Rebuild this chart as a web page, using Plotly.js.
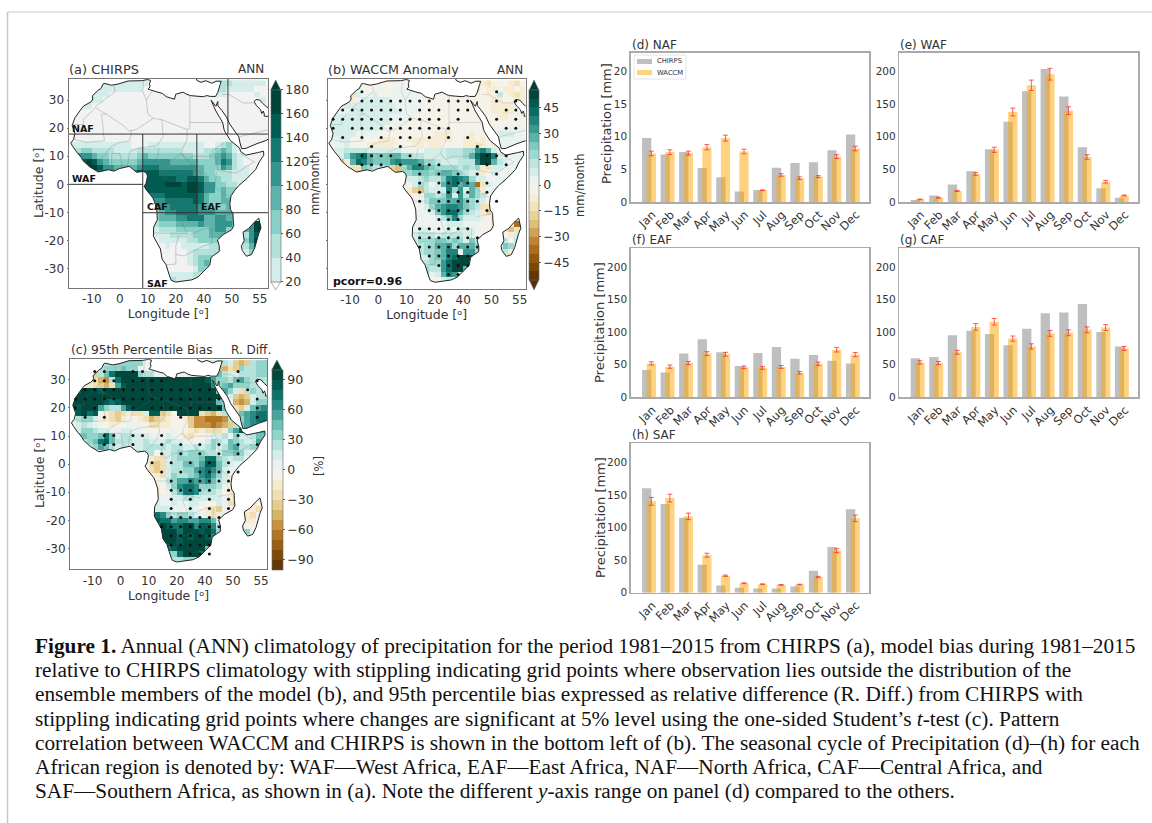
<!DOCTYPE html>
<html><head><meta charset="utf-8">
<script src="https://cdn.plot.ly/plotly-3.0.1.min.js"></script>
<style>html,body{margin:0;padding:0;background:#fff}#g{width:1152px;height:823px}</style>
</head><body><div id="g"></div>
<script>
// ---------- bar chart data ----------
const months=['Jan','Feb','Mar','Apr','May','Jun','Jul','Aug','Sep','Oct','Nov','Dec'];
const monthPos=[0,1,2,3,4,5,6,7,8,9,10,11];
const nafChirps=[9.8,7.3,7.65,5.2,3.8,1.6,1.85,5.25,6.0,6.1,7.95,10.35];
const nafWaccm=[7.45,7.65,7.5,8.4,9.8,7.75,1.8,4.15,3.65,3.9,6.95,8.2];
const nafErr=[.35,.35,.3,.4,.45,.35,.05,.2,.2,.15,.3,.35];
const wafChirps=[3,10,27,47,81,123,170,204,162,84,21,6.5];
const wafWaccm=[4,6.5,17,43,80,138,179,196,140,69,31,10];
const wafErr=[.5,.7,.8,2,4,6,8,9,6,3.5,2,.7];
const eafChirps=[42,38,67,89,69,48,68,77,59,65,56,52];
const eafWaccm=[52,47,52.5,67,66,46,45,46.5,37.5,51.5,73,65.5];
const eafErr=[2.5,2.5,2.5,3,3,2,2,2.2,2,2.5,3.5,3.2];
const cafChirps=[60,62,95,102,97,80,105,129,130,143,100,78];
const cafWaccm=[53.5,52.5,69,108,116,90,78,98,99,103.5,107,75];
const cafErr=[2.5,2.5,3,5,5,4,4,4.5,4.5,4.5,4.5,3];
const safChirps=[160,136,115,43,11,7.5,6.5,6.5,9.5,33.5,70,128];
const safWaccm=[140,145,117,57.5,26,14.5,13,12,12.5,24,64.5,114];
const safErr=[6,6,5,3,1,.7,.6,.6,.5,1,3,5];

// ---------- map grid ----------
const gridLon=[-17,-15,-13,-11,-9,-7,-5,-3,-1,1,3,5,7,9,11,13,15,17,19,21,23,25,27,29,31,33,35,37,39,41,43,45,47,49,51];
const gridLat=[36,34,32,30,28,26,24,22,20,18,16,14,12,10,8,6,4,2,0,-2,-4,-6,-8,-10,-12,-14,-16,-18,-20,-22,-24,-26,-28,-30,-32,-34,-36];

// (a) CHIRPS: one character per cell = 20 mm/month band (0 = below 20)
const chirpsBandValue={'0':null,'1':30,'2':50,'3':70,'4':90,'5':110,'6':130,'7':150,'8':170,'9':190};
const chirpsRows=[
"00011 11111 11110 00000 00000 02221 11111",
"00011 11111 11100 00000 00000 02211 11100",
"00111 11000 00000 00000 00000 01100 00010",
"00111 10000 00000 00000 00000 00000 00001",
"00110 00000 00000 00000 00000 00000 00000",
"00000 00000 00000 00000 00000 00000 00000",
"00000 00000 00000 00000 00000 00000 00000",
"00000 00000 00000 00000 00000 00000 00000",
"00000 00000 00000 00000 00000 00000 00000",
"00000 00000 00000 00000 00000 00000 00000",
"00000 00000 00000 00000 00000 00000 00000",
"11111 11111 10001 11111 11110 01231 00000",
"22332 22211 11222 22222 11112 23431 00000",
"35554 33222 22343 33333 33222 34542 10000",
"56787 54333 33455 55544 44433 34652 10000",
"66788 75544 44566 65555 55543 33542 11000",
"66666 66544 56777 76666 66543 32221 11000",
"66666 66666 67777 77776 67764 33221 11000",
"66666 66666 67777 77888 78875 53322 11000",
"66666 66666 66677 77777 78875 53433 00000",
"66666 66666 66666 66777 77764 33433 00000",
"55555 55555 55555 55666 66764 33444 00000",
"44444 44444 44444 45566 66654 33344 00000",
"33333 33333 33333 34556 66655 54444 00000",
"33333 33333 33333 34445 56664 45544 00000",
"22222 22222 22222 23334 44454 45554 00588",
"11111 11111 11111 12223 33333 45533 14588",
"11111 11111 11111 11122 22333 44400 02570",
"00000 00000 00000 01111 12233 33000 23580",
"00000 00000 00000 00100 11111 22000 12470",
"00000 00000 00000 00000 01222 22000 01300",
"00000 00000 00000 00000 01233 33000 01100",
"00000 00000 00000 00000 01234 30000 00000",
"00000 00000 00000 00000 00133 00000 00000",
"00000 00000 00000 00011 11220 00000 00000",
"00000 00000 00000 00021 11100 00000 00000",
"00000 00000 00000 00000 00000 00000 00000"];

// (b) anomaly: digit = positive 5 mm/month band, letter = negative band
const anomBandValue={'0':2.5,'1':7.5,'2':12.5,'3':17.5,'4':22.5,'5':27.5,'6':32.5,'7':37.5,'8':42.5,'9':50,
 'a':-2.5,'b':-7.5,'c':-12.5,'d':-17.5,'e':-22.5,'f':-27.5,'g':-32.5,'h':-37.5,'i':-42.5,'j':-50};
const anomRows=[
"00cbb aaaaa aaaaa aaaaa aaaaa abbca aabca",
"0bcdc 0aaa0 aa000 00000 aaaaa ababb abbab",
"0bcdc 1001a a0000 00aaa aaaaa ababa 2abcb",
"00bcb 01111 10000 0aaaa aaaaa aaaab baabb",
"00011 11111 11000 00aaa aaaaa aaaab bbbab",
"00001 11111 11100 00aaa aaaaa aaaab bcb0a",
"11111 11111 10000 aaaaa aaaaa aaaaa bbaaa",
"11111 11111 1000a aaaaa aaaaa aaaaa aaaaa",
"11111 11111 aaaaa aaaaa aaaaa aaaba 00000",
"11111 0000a aaaaa aaaab bbaaa baaaa 11100",
"0011a aaaab bbaab bbbbb bbaab babaa 00000",
"0001a aabbb bbaaa bbabb aaaab bcbab 00000",
"01122 22111 11100 00111 12223 36751 00000",
"bb136 78544 45533 22111 12223 58997 10000",
"cdeb5 87544 46766 65332 11122 27995 21000",
"aaabc c4322 3de35 77543 33323 23bc1 10000",
"aaaab ddbba ade33 44434 55432 11ba1 00000",
"00000 00000 aaa01 12322 47876 31100 00000",
"00000 00000 aaaba 13201 57856 5hc10 00000",
"00000 00000 aaaab de211 17361 53b00 00000",
"00000 00000 aaaaa ab332 36162 53200 00000",
"00000 00000 aaaaa a0244 45564 321a0 00000",
"00000 00000 aaaaa a0135 67764 32cca 00000",
"00000 00000 aaaaa a0014 68853 21bd0 00000",
"00000 00000 aaaaa 00a01 24731 110ab 00000",
"00000 00000 00000 00000 01110 00aab 00bhi",
"00000 00000 00000 01100 01011 10aaa 0aecb",
"00000 00000 00000 12221 22221 1aaaa 0ab10",
"00000 00000 00000 13334 43431 42aaa b2a20",
"00000 00000 00000 12335 56355 53aaa 14300",
"00000 00000 00000 12334 57706 63aaa a2b00",
"00000 00000 00000 01134 57899 98aaa 0cb00",
"00000 00000 00000 01233 68999 8aaaa 00000",
"00000 00000 00000 01322 68995 aaaaa 00000",
"00000 00000 00000 00301 57600 00000 00000",
"00000 00000 00000 000aa 12100 00000 00000",
"00000 00000 00000 00000 00000 00000 00000"];

// (c) 95th percentile relative bias: digit = positive 10 % band, letter = negative band
const biasBandValue={'0':5,'1':15,'2':25,'3':35,'4':45,'5':55,'6':65,'7':75,'8':85,'9':95,
 'a':-5,'b':-15,'c':-25,'d':-35,'e':-45,'f':-55,'g':-65,'h':-75,'i':-85,'j':-95};
const biasRows=[
"00d11 12233 33300 00000 0000b 1221d ed233",
"12da3 23334 33000 00000 00001 23ecd 32233",
"0cfed 24799 99322 00000 00011 24211 22233",
"11abc ef279 99999 99999 99998 53324 53222",
"12bbc dec58 99999 99999 99999 63453 33222",
"68999 89999 99999 99999 99999 94531 c2322",
"99999 99999 99999 99999 99999 9931d ed122",
"99999 98789 99999 99999 99999 9430e fe133",
"98999 53225 89999 99999 99999 9942c d1456",
"38978 abcdc bcc18 8dca9 999cd ec212 45677",
"12331 abcdb aabce dcbaa bdffg ggf22 35677",
"01210 aabaa 00aac cbbaa adfff gfed2 45666",
"11332 11001 100aa aaa0a abcbc ccb35 89755",
"23433 47412 21110 0010a bcaa0 11203 11244",
"22234 78422 21121 11211 00a01 32143 21154",
"00123 54212 11122 22122 11212 31245 22330",
"00000 a1111 11222 a1123 23332 21334 31000",
"00000 00000 1111b cc123 33347 73212 20000",
"00000 00000 aaaac dc122 44358 84210 00000",
"00000 00000 000bc dc122 33567 64100 00000",
"00000 00000 0000a bc132 23467 531a0 00000",
"00000 00000 00000 a0235 56556 421b0 00000",
"00000 00000 00000 ba136 77633 320b0 00000",
"00000 00000 00000 ba024 77622 21aba 00000",
"00000 00000 00000 00011 22111 110bc 00000",
"00000 00000 00000 10010 0110a a10cd 00ba0",
"00000 00000 00000 11100 a10ab cd0aa 0abc0",
"00000 00000 00000 76323 3210b cb000 0bca0",
"00000 00000 00000 87756 65566 41000 abba0",
"00000 00000 00000 69877 99688 62000 0aa00",
"00000 00000 00000 59997 99989 73000 03000",
"00000 00000 00000 49998 98998 64000 a2000",
"00000 00000 00000 28998 99999 60000 00000",
"00000 00000 00000 04789 99994 00000 00000",
"00000 00000 00000 00337 99970 00000 00000",
"00000 00000 00000 00a22 33200 00000 00000",
"00000 00000 00000 00000 00000 00000 00000"];

// stippling grid and masks read from (b) and (c)
const stipLon=[-16,-12.6,-9.2,-5.8,-2.4,1,4.4,7.8,11.2,14.6,18,21.4,24.8,28.2,31.6,35,38.4,41.8,45.2,48.6,52];
const stipLat=[33,29.7,26.5,23.2,20,16.7,13.5,10.2,7,3.7,0.5,-2.8,-6,-9.3,-12.5,-15.8,-19,-22.3,-25.5,-28.8,-32];
const stipB=[
"...*.............*...",
"...********.***..*.*.",
".*******.***.**...**.",
"************.*...*.*.",
"*.***********.....**.",
".*.*.*.**.*.*.*......",
"....*..*.......*.....",
"...****.*.......***..",
"...***.*.***....*.*..",
".........*.*.*.*.*...",
".........*.****.*....",
".........*.****.*....",
".........*.*****.*...",
"..........*****.*....",
"...........***.......",
".........******......",
".........*******.....",
".........*******.....",
"..........*****......",
"...........****......",
"............**......."];
const stipC=[
"..**..**.........*...",
"..***.****.......*.*.",
".**************...*..",
"****************...*.",
"*.*...*.********...*.",
".*.*.......*.......*.",
".....................",
"...**.**.*.......*...",
"...**.*..*.*.*.*.*.*.",
".........*.*.*.*.*...",
"........*.*.*.*.*....",
".........*.*.*****...",
"..........*.*****....",
"..........*****.*....",
"..........*.*.*.*....",
"..........*.*.*.*....",
"..........******.....",
".........*******.....",
"..........*****......",
"..........*****......",
"............***......"];

// coastline (lon, lat): Africa joined to Sinai, the Levant and Arabia
const coastLon=[-5.9,-5.3,-3,-0.6,3,7.8,9.9,11,10.6,10.8,10.1,11,13.2,15.2,16.6,19.5,20,22.6,24,25.2,27.2,29.9,31,32.3,34.2,35,35.8,36.2,34.5,32.8,30.7,29,27.5,27,28,60,60,57,54.5,52.5,51,50,48.6,48,48.8,50.2,50.7,51.2,51.6,51.5,54,56.2,56.6,58.7,59.8,58.5,57.7,55,52.2,49,45,43.5,42.9,42.5,39.2,38,36.5,35,35,34.3,32.6,33.8,34.3,35.6,36.7,37.2,37.5,39.5,42.7,43.2,45,49.2,51.3,51.4,49.8,48.5,45.3,42.5,40.9,39.7,39.3,39.5,40.4,40.5,40.7,39.9,36.9,34.9,35.5,35.5,33.6,32.6,32.1,31,27.9,25.7,20,18.4,17.9,16.5,15.1,14.5,12,12.1,13.4,13.2,12.3,11.8,9.5,8.7,9.4,9.7,9.9,9.5,8.5,6,3.4,-0.2,-2.1,-4,-7.7,-10.8,-13.2,-13.7,-15.6,-16.7,-17.5,-16.5,-16,-17,-16,-13.5,-12.9,-10.2,-9.6,-9.8,-7.6,-6.8,-5.9];
const coastLat=[35.8,35.9,35.3,35.7,36.8,36.9,37.3,37,35.8,34.7,33.9,33.6,32.9,32.4,31.2,30.3,32.1,32.8,32,31.6,31.4,31.2,31.6,31.3,31.3,32.8,35.5,36.7,36.7,36,36.9,36.3,37,39,41,41,27,26.9,26.6,27.5,28.8,30,30.2,29.4,28,26.6,25.2,26.1,25,24.3,24.1,26,24.4,23.6,22.4,20.4,19,17.5,15.6,14.5,12.8,12.7,14.8,16.9,21.5,24.1,26.2,28,29.5,27.8,29.9,27.2,26.1,23.9,22.1,19.6,18.8,15.6,13,11.6,10.4,11.3,11.8,10.4,8,5.3,2,-0.4,-2.3,-4.1,-6.8,-9,-10.3,-13,-14.6,-16.2,-17.9,-19.8,-22,-23.9,-25.2,-26,-28.8,-29.9,-33,-34,-34.8,-34.2,-33,-28.6,-26.6,-23,-18.5,-15.2,-12.6,-8.8,-6,-4.8,-2,-0.7,0.4,1.9,3,4,4.6,4.3,6.4,5.6,4.7,5.2,4.4,6.3,8.5,9.5,11.8,13.4,14.7,16,18.1,21,23.7,27.2,27.9,29.4,30.4,31.5,33.6,34,35.8];
const madaLon=[49.6,50.4,49.6,48.2,47,45.2,43.7,43.4,44.4,44,46,48,49.6];
const madaLat=[-12,-15.5,-17.5,-22.5,-25,-25.6,-23.5,-22,-20,-17,-15.7,-13.5,-12];
const oceanLon=[-40,80,80,-40];
const oceanLat=[-60,-60,60,60];

// country borders, segments split by null
const borderLon=[-2,-1.7,-3.6,-8.7,null,-17,-13,-13,-8.7,-4.8,-6.5,-5.5,-12,-16.5,null,-4.8,1.2,3.3,5.8,12,null,8.5,8.2,9.5,10,12,null,9.5,11.5,null,25,25,24,24,22.5,22,23.5,null,15,24,null,12,15,15.5,13.5,null,25,36.9,null,4.2,3.5,0,-3,-5.5,null,2.7,3.6,7,13.5,null,8.6,11,13.5,14,null,14.5,16,18.5,23,27.4,24,22,18.9,15.5,14.5,null,12.2,16.5,19,22,24,28,29,30.7,29.3,29.6,31,30.8,27.4,null,11.8,24,22,24,null,16.5,20,20,21,null,20,23,29.3,32.8,33,30.4,25.3,null,36.9,33,34.5,35,41,43,48,43,null,34,37.6,39.2,null,34,34.5,null,24,26,33,null,34.5,40.4,null,36.5,39,44,48,null,43,52,55,null,-3,-2.8,0,1,null,-8.5,-5.5];
const borderLat=[35.1,33,31.5,27.7,null,21.3,21.3,23,27.3,25,25,15.5,15,16,null,25,21,19,19.5,23.5,null,37,33,30,25,23.5,null,30,33,null,31.6,20,19.5,15.7,13,11,9,null,23,19.5,null,23.5,23,17,14,null,22,22,null,19.2,15.4,15,13.5,10.4,null,6.4,11.7,13,13.7,null,4.6,6.5,10,13,null,5,2,3.6,4.5,5,8.7,11,8.8,7.5,5,null,-6,-5.9,-8,-11,-11,-12,-10,-8,-4,-0.6,2.2,3.5,5,null,-17.3,-17.5,-13,-11,null,-28.6,-28.4,-22,-18.3,null,-25,-25.5,-22.2,-21,-16,-15.6,-17.8,null,14.5,12,8.5,5,4,4.9,8,11,null,-1,-3.5,-4.7,null,-1,4.5,null,8.7,10,10,null,-11.5,-10.5,null,32,32,29,29,null,17,19,20,null,5,11,11,6.2,null,7.5,10.4];

// region dividers on (a)
const regionLon=[-20,60,null,8.2,8.2,null,27.5,27.5,null,-20,8.2,null,8.2,60,null,38.6,38.6];
const regionLat=[17.9,17.9,null,17.9,-40,null,17.9,-10.1,null,0,0,null,-10.1,-10.1,null,40,17.9];

// tick text (the reference's x labels skip 30)
const lonTickVals=[-10,0,10,20,30,40,50];
const lonTickText=['-10','0','10','20','40','50','55'];
const latTickVals=[30,20,10,0,-10,-20,-30];
const latTickText=['30','20','10','0','-10','-20','-30'];

// ---------- helpers ----------
const W=1152,H=823;
const fx=p=>p/W, fy=p=>1-p/H;
const TXT='#333333', FONT='"DejaVu Sans",sans-serif';
const anchors=[[-1,[84,48,5]],[-.8,[140,81,10]],[-.6,[191,129,45]],[-.4,[223,194,125]],[-.2,[246,232,195]],[0,[245,245,245]],[.2,[199,234,229]],[.4,[128,205,193]],[.6,[53,151,143]],[.8,[1,102,94]],[1,[0,60,48]]];
function brbg(t){t=Math.max(-1,Math.min(1,t));for(let i=0;i<anchors.length-1;i++){const a=anchors[i],b=anchors[i+1];if(t<=b[0]){const f=(t-a[0])/(b[0]-a[0]);const c=a[1].map((v,k)=>Math.round(v+(b[1][k]-v)*f));return `rgb(${c.join(',')})`;}}return 'rgb(0,60,48)';}
function bands(cols){const s=[];cols.forEach((c,i)=>{s.push([i/cols.length,c]);s.push([(i+1)/cols.length,c]);});return s;}
const decode=(rows,map)=>rows.map(r=>r.replace(/ /g,'').padEnd(35,'0').split('').slice(0,35).map(ch=>map[ch]));
const colsA=[...Array(8)].map((_,i)=>brbg(0.14+0.82*i/7));
const colsB=[...Array(22)].map((_,i)=>brbg((-55+5*i+2.5)/55));
const colsC=[...Array(20)].map((_,i)=>brbg((-100+10*i+5)/100));

const nul=[null];
const ringLon=[...oceanLon,...nul,...coastLon,...nul,...madaLon];
const ringLat=[...oceanLat,...nul,...coastLat,...nul,...madaLat];

function stipple(mask,xa,ya){const xs=[],ys=[];mask.forEach((r,j)=>r.split('').forEach((c,i)=>{if(c==='*'&&i<stipLon.length){xs.push(stipLon[i]);ys.push(stipLat[j]);}}));
 return {type:'scatter',mode:'markers',x:xs,y:ys,xaxis:xa,yaxis:ya,marker:{color:'#111',size:3},showlegend:false,hoverinfo:'skip'};}
function overlays(xa,ya,borderCol){return [
 {type:'scatter',mode:'lines',x:ringLon,y:ringLat,xaxis:xa,yaxis:ya,fill:'toself',fillcolor:'#ffffff',line:{color:'#222',width:1,simplify:false},showlegend:false,hoverinfo:'skip'},
 {type:'scatter',mode:'lines',x:borderLon,y:borderLat,xaxis:xa,yaxis:ya,line:{color:borderCol,width:.6},showlegend:false,hoverinfo:'skip'}];}
function cbar(x,top,bottom,tickvals,ticktext,thick){return {x:fx(x),xanchor:'left',y:fy(bottom),yanchor:'bottom',lenmode:'pixels',len:bottom-top,thickness:thick,thicknessmode:'pixels',xpad:0,ypad:0,outlinewidth:.6,outlinecolor:'#666',ticks:'outside',ticklen:2,tickcolor:'#555',tickvals,ticktext,tickfont:{size:12.5,color:TXT,family:FONT}};}

const data=[];
// panel a
data.push({type:'heatmap',x:gridLon,y:gridLat,z:decode(chirpsRows,chirpsBandValue),xaxis:'x',yaxis:'y',zmin:20,zmax:180,colorscale:bands(colsA),hoverongaps:false,
 colorbar:cbar(270.7,90,281.7,[20,40,60,80,100,120,140,160,180],['20','40','60','80','100','120','140','160','180'],10)});
data.push(...overlays('x','y','rgba(110,110,110,.55)'));
data.push({type:'scatter',mode:'lines',x:regionLon,y:regionLat,xaxis:'x',yaxis:'y',line:{color:'#333',width:1},showlegend:false,hoverinfo:'skip'});
// panel b
data.push({type:'heatmap',x:gridLon,y:gridLat,z:decode(anomRows,anomBandValue),xaxis:'x2',yaxis:'y2',zmin:-55,zmax:55,colorscale:bands(colsB),
 colorbar:cbar(529.3,90,280,[-45,-30,-15,0,15,30,45],['−45','−30','−15','0','15','30','45'],9.5)});
data.push(...overlays('x2','y2','rgba(120,120,120,.4)'));
data.push(stipple(stipB,'x2','y2'));
// panel c
data.push({type:'heatmap',x:gridLon,y:gridLat,z:decode(biasRows,biasBandValue),xaxis:'x3',yaxis:'y3',zmin:-100,zmax:100,colorscale:bands(colsC),
 colorbar:cbar(271.7,370,569.7,[-90,-60,-30,0,30,60,90],['−90','−60','−30','0','30','60','90'],10.5)});
data.push(...overlays('x3','y3','rgba(120,120,120,.4)'));
data.push(stipple(stipC,'x3','y3'));

// bars
const barPanels=[[nafChirps,nafWaccm,nafErr,'x4','y4'],[wafChirps,wafWaccm,wafErr,'x5','y5'],[eafChirps,eafWaccm,eafErr,'x6','y6'],[cafChirps,cafWaccm,cafErr,'x7','y7'],[safChirps,safWaccm,safErr,'x8','y8']];
const greyBar='rgba(128,128,128,.5)', orangeBar='rgba(255,165,0,.5)';
barPanels.forEach(([c,w,e,xa,ya])=>{
 data.push({type:'bar',name:'CHIRPS',x:monthPos,y:c,width:.5,xaxis:xa,yaxis:ya,marker:{color:greyBar,line:{width:0}},showlegend:false});
 data.push({type:'bar',name:'WACCM',x:monthPos.map(p=>p+.25),y:w,width:.5,xaxis:xa,yaxis:ya,marker:{color:orangeBar,line:{width:0}},showlegend:false,
  error_y:{type:'data',array:e,visible:true,color:'rgba(255,40,40,.75)',thickness:1,width:2.5}});
});

// ---------- layout ----------
const layout={width:W,height:H,margin:{l:0,r:0,t:0,b:0},paper_bgcolor:'#fff',plot_bgcolor:'#fff',barmode:'overlay',showlegend:false,font:{family:FONT,color:TXT},shapes:[],annotations:[]};
function mapAxes(n,l,r,t,b,lon,lat,showLat){
 const s=n===1?'':n;
 layout['xaxis'+s]={domain:[fx(l),fx(r)],range:lon,anchor:'y'+s,tickmode:'array',tickvals:lonTickVals,ticktext:lonTickText,tickangle:0,ticks:'',tickfont:{size:12,color:TXT},showgrid:false,zeroline:false,showline:true,mirror:true,linecolor:'#777',linewidth:1,
  title:{text:'Longitude [ᵒ]',font:{size:12.5,color:TXT},standoff:0}};
 layout['yaxis'+s]={domain:[fy(b),fy(t)],range:lat,anchor:'x'+s,tickmode:'array',tickvals:latTickVals,ticktext:latTickText,showticklabels:showLat,ticks:'outside',ticklen:1,tickcolor:'#666',tickfont:{size:12,color:TXT},showgrid:false,zeroline:false,showline:true,mirror:true,linecolor:'#777',linewidth:1};
}
mapAxes(1,68.5,268,79,288,[-18.3,52.9],[-36.9,37.5],true);
mapAxes(2,327.7,525.7,79,289,[-17.9,52.1],[-37.2,37.5],false);
mapAxes(3,70,267.3,359.3,569.3,[-18,52.2],[-37.4,37.3],true);
function barAxes(n,l,r,t,b,ymax){
 layout['xaxis'+n]={domain:[fx(l),fx(r)],range:[-.863,12.01],anchor:'y'+n,tickmode:'array',tickvals:monthPos.map(p=>p+.3),ticktext:months,tickangle:-45,ticks:'',tickfont:{size:11.5,color:TXT},showgrid:false,zeroline:false,showline:true,mirror:true,linecolor:'#aaa',linewidth:1.5};
 layout['yaxis'+n]={domain:[fy(b),fy(t)],range:[0,ymax],anchor:'x'+n,tickmode:'array',tickvals:ymax<100?[0,5,10,15,20]:[0,50,100,150,200],ticks:'',tickfont:{size:10.5,color:TXT},showgrid:false,zeroline:false,showline:true,mirror:true,linecolor:'#aaa',linewidth:1.5};
}
barAxes(4,630.7,869.3,52.7,202,22.9);
barAxes(5,899.3,1138.3,52.7,202,229);
barAxes(6,630.7,869.3,248,397.3,229);
barAxes(7,899.3,1138.3,248,397.3,229);
barAxes(8,630.7,869.3,443.3,592.7,229);

function txt(x,y,text,size,extra){layout.annotations.push(Object.assign({xref:'paper',yref:'paper',x:fx(x),y:fy(y),text,showarrow:false,xanchor:'left',yanchor:'middle',font:{size,color:TXT,family:FONT}},extra||{}));}
txt(66.5,69,'(a) CHIRPS',13);
txt(266,69,'ANN',12,{xanchor:'right'});
txt(325.5,70,'(b) WACCM Anomaly',12.7);
txt(525,70,'ANN',12,{xanchor:'right'});
txt(68.5,350,'(c) 95th Percentile Bias',12.2);
txt(273,350,'R. Diff.',12,{xanchor:'right'});
[['(d) NAF',630,45],['(e) WAF',898,45],['(f) EAF',630,240],['(g) CAF',898,240],['(h) SAF',630,435]].forEach(a=>txt(a[1],a[2],a[0],12));
// rotated axis and colour-bar titles
const vert=(x,y,t,size)=>txt(x,y,t,size,{xanchor:'center',textangle:-90});
vert(38,183,'Latitude [ᵒ]',12.5);
vert(39,473,'Latitude [ᵒ]',12.5);
vert(606,124,'Precipitation [mm]',13);
vert(600,323,'Precipitation [mm]',13);
vert(600,518,'Precipitation [mm]',13);
vert(315,183,'mm/month',11.5);
vert(580,185,'mm/month',11.5);
vert(319,466,'[%]',11.5);
[['NAF',-17.8,20],['WAF',-17.8,2],['CAF',9,-8],['EAF',28.3,-8],['SAF',9,-35.2]].forEach(a=>layout.annotations.push({xref:'x',yref:'y',x:a[1],y:a[2],text:'<b>'+a[0]+'</b>',showarrow:false,xanchor:'left',yanchor:'middle',font:{size:9.5,color:'#111',family:FONT}}));
txt(331,281,'<b>pcorr=0.96</b>',11,{font:{size:11,color:'#111',family:FONT}});

// caption
const captionLines=[
'<b>Figure 1.</b> Annual (ANN) climatology of precipitation for the period 1981–2015 from CHIRPS (a), model bias during 1981–2015',
'relative to CHIRPS climatology with stippling indicating grid points where observation lies outside the distribution of the',
'ensemble members of the model (b), and 95th percentile bias expressed as relative difference (R. Diff.) from CHIRPS with',
'stippling indicating grid points where changes are significant at 5% level using the one-sided Student’s <i>t</i>-test (c). Pattern',
'correlation between WACCM and CHIRPS is shown in the bottom left of (b). The seasonal cycle of Precipitation (d)–(h) for each',
'African region is denoted by: WAF—West Africa, EAF—East Africa, NAF—North Africa, CAF—Central Africa, and',
'SAF—Southern Africa, as shown in (a). Note the different <i>y</i>-axis range on panel (d) compared to the others.'];
captionLines.forEach((l,i)=>txt(33,646+24.2*i,l,21.3,{font:{size:21.3,color:'#111',family:'"Liberation Serif",serif'}}));

// frame and colourbar end caps
const paperShape=(o)=>Object.assign({xref:'paper',yref:'paper'},o);
layout.shapes.push(paperShape({type:'line',x0:fx(7.5),x1:fx(7.5),y0:fy(12),y1:fy(823),line:{color:'#c8c8c8',width:1.5}}));
layout.shapes.push(paperShape({type:'line',x0:fx(7.5),x1:fx(1152),y0:fy(12),y1:fy(12),line:{color:'#c8c8c8',width:1}}));
function cap(x0,x1,base,tip,col){const p=(x,y)=>fx(x)+','+fy(y);layout.shapes.push(paperShape({type:'path',path:`M ${p(x0,base)} L ${p(x1,base)} L ${p((x0+x1)/2,tip)} Z`,fillcolor:col,line:{color:'#666',width:.5}}));}
cap(270.7,280.7,90,80,'#003c30');cap(270.7,280.7,281.7,290,'#ffffff');
cap(529.3,538.8,90,80,'#003c30');cap(529.3,538.8,280,290,'#543005');
cap(271.7,282.2,370,360,'#003c30');
// grey land under cells below 20 mm/month in (a)
layout.shapes.push({type:'rect',xref:'x',yref:'y',x0:-40,x1:80,y0:-60,y1:60,fillcolor:'#f2f2f2',line:{width:0},layer:'below'});
// hand-drawn legend on (d), sized as in the reference
layout.shapes.push(paperShape({type:'rect',x0:fx(634),x1:fx(686),y0:fy(79),y1:fy(55),fillcolor:'rgba(255,255,255,.8)',line:{color:'#ddd',width:.8}}));
layout.shapes.push(paperShape({type:'rect',x0:fx(637),x1:fx(652),y0:fy(64),y1:fy(59),fillcolor:greyBar,line:{width:0}}));
layout.shapes.push(paperShape({type:'rect',x0:fx(637),x1:fx(652),y0:fy(75),y1:fy(70),fillcolor:orangeBar,line:{width:0}}));
txt(655,61.5,'CHIRPS',6.8);
txt(655,72.5,'WACCM',6.8);

Plotly.newPlot('g',data,layout,{displayModeBar:false,staticPlot:true});
</script></body></html>
